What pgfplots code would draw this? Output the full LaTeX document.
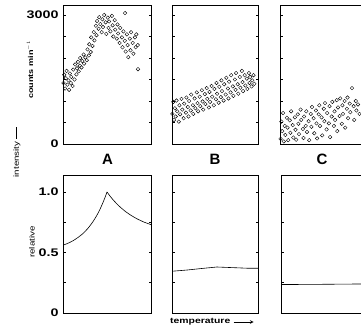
\documentclass[border=0pt]{standalone}
\usepackage{pgfplots}
\pgfplotsset{compat=1.18}
\usepackage{fontspec}
\setmainfont{Liberation Sans}
\newfontfamily\wfont[FakeStretch=1.3]{Liberation Sans}
\begin{document}
\begin{tikzpicture}
\useasboundingbox (0pt,0pt) rectangle (361pt,335pt);
\pgfplotsset{
 panel/.style={scale only axis, anchor=south west, xtick=\empty,
   axis line style={line width=0.6pt}, tick align=inside,
   major tick length=2.5pt, tick style={line width=0.5pt, black},
   yticklabel style={font=\wfont\bfseries\fontsize{11}{11}\selectfont, xshift=-1pt},
   /pgf/number format/assume math mode=true},
 top/.style={panel, height=139pt, ymin=0, ymax=3233, ytick={0,500,...,3000}},
 bot/.style={panel, height=138pt, ymin=0, ymax=1.14, ytick={0,0.25,0.5,0.75,1}},
 sc/.style={only marks, mark=o, mark size=1.8pt, mark options={line width=0.4pt}, black},
 ln/.style={no marks, black, line width=0.6pt},
}
% ---------- top row ----------
\begin{axis}[top, at={(63pt,191pt)}, width=88pt, xmin=0, xmax=88,
  yticklabels={0,,,,,,3000}]
\addplot[sc] coordinates {(0.5,1420)(1.2,1610)(2.1,1290)(2.8,1530)(3.6,1700)(4.4,1380)(5.5,1480)(6.1,1260)(6.9,1640)(7.8,1420)(8.3,1560)(9.6,1350)(10.2,1730)(11.5,1500)(12.1,1850)(13.4,1620)(14.0,1760)(14.9,1910)(15.7,1690)(16.8,1820)(17.2,2000)(18.5,1780)(19.3,1930)(20.6,2080)(21.1,1870)(22.4,2010)(23.8,1950)(24.5,2200)(25.9,2060)(26.3,2320)(27.7,2140)(28.2,2480)(29.5,2280)(30.8,2600)(31.4,2410)(32.9,2750)(33.5,2530)(34.1,2860)(35.6,2680)(36.2,2950)(37.3,2790)(38.7,2600)(39.4,2900)(40.0,2720)(41.2,3000)(42.6,2830)(43.3,2560)(44.8,2940)(45.5,2700)(46.1,2850)(47.4,2620)(48.9,2980)(49.6,2760)(50.3,2500)(51.7,2880)(52.2,2660)(53.8,2450)(54.5,2780)(55.1,2570)(56.6,2350)(57.2,2700)(58.9,2480)(59.5,2250)(60.4,2620)(61.8,2400)(62.0,3045)(62.7,2150)(63.9,2550)(64.6,2300)(65.3,2020)(66.8,2450)(67.5,2180)(68.1,2600)(69.7,2350)(70.4,2100)(71.9,2480)(72.6,2250)(73.3,2550)(74.8,2300)(75.0,1740)};
\end{axis}
\begin{axis}[top, at={(172pt,191pt)}, width=86pt, xmin=0, xmax=86, yticklabels=\empty]
\addplot[sc] coordinates {(0.4,700)(1.3,980)(2.0,560)(2.9,830)(3.7,640)(4.5,1010)(5.2,760)(6.8,520)(7.4,900)(8.1,690)(9.5,1050)(10.3,800)(11.6,600)(12.2,940)(13.9,730)(14.4,1080)(15.8,860)(16.5,640)(17.1,1000)(18.7,780)(19.2,1150)(20.9,900)(21.3,700)(22.6,1060)(23.4,830)(24.8,1200)(25.5,950)(26.1,760)(27.7,1100)(28.3,880)(29.9,1250)(30.6,990)(31.2,800)(32.8,1160)(33.4,930)(34.7,1300)(35.3,1050)(36.9,850)(37.5,1210)(38.1,980)(39.6,1350)(40.2,1100)(41.8,900)(42.4,1280)(43.9,1040)(44.5,1420)(45.1,1170)(46.7,960)(47.3,1330)(48.8,1090)(49.4,1480)(50.0,1230)(51.6,1010)(52.2,1390)(53.7,1150)(54.3,1540)(55.9,1290)(56.5,1060)(57.1,1450)(58.6,1200)(59.2,1600)(60.8,1340)(61.4,1120)(62.9,1500)(63.5,1260)(64.1,1650)(65.7,1390)(66.3,1170)(67.8,1560)(68.4,1310)(69.9,1700)(70.5,1440)(71.1,1230)(72.7,1600)(73.3,1360)(74.8,1520)(75.4,1280)(76.9,1650)(77.5,1420)(78.1,1560)(79.6,1340)(80.2,1480)(81.5,1600)(82.3,1400)};
\end{axis}
\begin{axis}[top, at={(280pt,191pt)}, width=84pt, xmin=0, xmax=84, yticklabels=\empty]
\addplot[sc] coordinates {(0.6,120)(1.4,520)(2.2,300)(3.1,720)(3.8,60)(4.7,420)(5.3,210)(6.9,610)(7.5,380)(8.2,90)(9.8,550)(10.4,260)(11.1,760)(12.7,440)(13.3,150)(14.9,620)(15.5,330)(16.2,100)(17.8,690)(18.4,470)(19.0,230)(20.6,800)(21.2,560)(22.9,350)(23.5,140)(24.1,640)(25.7,420)(26.3,760)(27.0,280)(28.6,530)(29.2,90)(30.8,700)(31.4,400)(32.0,860)(33.6,600)(34.3,250)(35.9,780)(36.5,480)(37.1,130)(38.7,690)(39.3,900)(40.0,420)(41.6,620)(42.2,200)(43.8,820)(44.4,530)(45.0,950)(46.6,340)(47.2,720)(48.9,480)(49.5,880)(50.1,160)(51.7,640)(52.3,980)(53.9,420)(54.5,760)(55.1,560)(56.7,1020)(57.3,300)(58.0,850)(59.6,650)(60.2,1060)(61.8,470)(62.4,900)(63.0,700)(64.6,1000)(65.2,380)(66.9,820)(67.5,1080)(68.1,600)(69.7,940)(70.3,740)(72.0,1300)(73.6,880)(74.2,560)(75.8,1000)(76.4,780)(78.0,920)(79.5,700)};
\end{axis}
% ---------- bottom row ----------
\begin{axis}[bot, at={(63pt,22pt)}, width=88pt, xmin=0, xmax=88,
  yticklabels={0,,0.5,,1.0}]
\addplot[ln, smooth, tension=0.3] coordinates {(0,0.56)(5,0.576)(10,0.597)(15,0.624)(20,0.657)(25,0.700)(30,0.755)(34,0.809)(37,0.857)(40,0.913)(42,0.954)(44,1.0)};
\addplot[ln, smooth, tension=0.3] coordinates {(44,1.0)(47,0.966)(50,0.936)(54,0.900)(58,0.869)(63,0.835)(68,0.807)(74,0.778)(81,0.751)(88,0.73)};
\end{axis}
\begin{axis}[bot, at={(172pt,22pt)}, width=86pt, xmin=0, xmax=86, yticklabels=\empty]
\addplot[ln] coordinates {(0,0.345)(15,0.355)(30,0.368)(45,0.38)(60,0.375)(75,0.37)(86,0.37)};
\end{axis}
\begin{axis}[bot, at={(281pt,22pt)}, width=83pt, xmin=0, xmax=83, yticklabels=\empty]
\addplot[ln] coordinates {(0,0.235)(40,0.237)(83,0.24)};
\end{axis}
% ---------- labels ----------
\node[font=\bfseries\fontsize{15}{15}\selectfont] at (107.5pt,176pt) {A};
\node[font=\bfseries\fontsize{15}{15}\selectfont] at (215pt,176pt) {B};
\node[font=\bfseries\fontsize{15}{15}\selectfont] at (322pt,176pt) {C};
\node[rotate=90, font=\wfont\bfseries\fontsize{7}{7}\selectfont] at (30pt,265pt) {counts min$^{-1}$};
\node[rotate=90, font=\wfont\fontsize{7.5}{7.5}\selectfont] at (17pt,183pt) {intensity \rule[0.6ex]{12pt}{0.5pt}};
\node[rotate=90, font=\wfont\fontsize{7.5}{7.5}\selectfont] at (32pt,93pt) {relative};
\node[anchor=west, font=\wfont\bfseries\fontsize{8}{8}\selectfont, inner sep=0pt] (t) at (170pt,13pt) {temperature};
\draw[-stealth, line width=0.6pt] ([xshift=3pt]t.east) -- ++(20pt,0);
\end{tikzpicture}
\end{document}
